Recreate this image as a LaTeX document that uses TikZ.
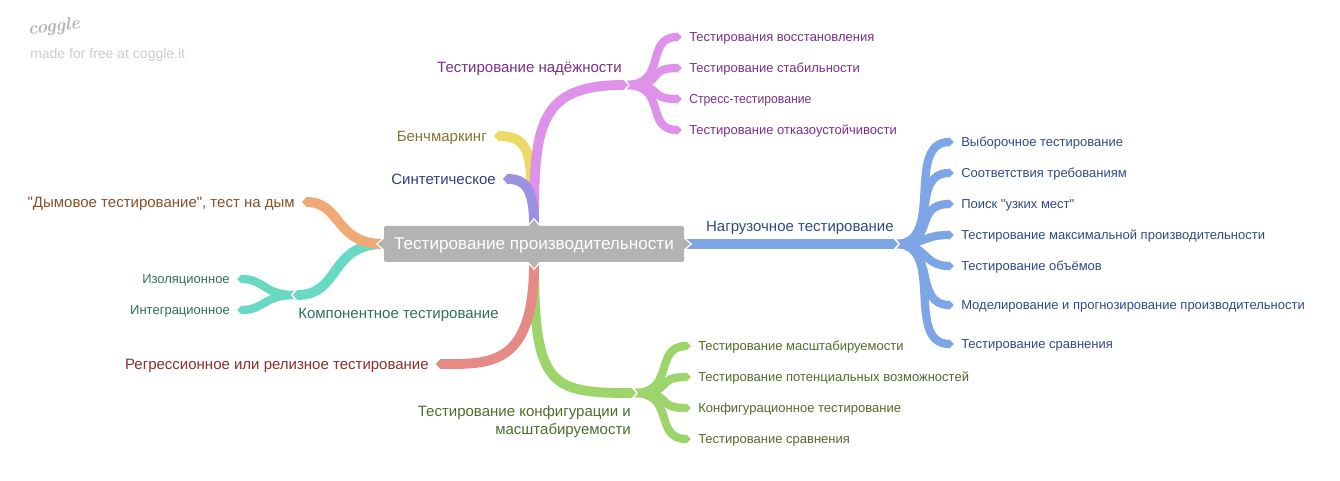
\documentclass[tikz,border=0pt]{standalone}
\usepackage{fontspec}
\usepackage{tikz}
\usetikzlibrary{arrows.meta,positioning,backgrounds}
\newfontfamily\labelfont{Liberation Sans}

\definecolor{rootgrey}{HTML}{B3B3B3}
\definecolor{purpleline}{HTML}{DF92EA}
\definecolor{purpletext}{HTML}{7B2E8A}
\definecolor{yellowline}{HTML}{EDD966}
\definecolor{yellowtext}{HTML}{877232}
\definecolor{violetline}{HTML}{9C90E3}
\definecolor{violettext}{HTML}{2F3F85}
\definecolor{orangeline}{HTML}{F0A875}
\definecolor{orangetext}{HTML}{8A4E24}
\definecolor{tealline}{HTML}{69D9C3}
\definecolor{tealtext}{HTML}{2F6F60}
\definecolor{redline}{HTML}{E58A85}
\definecolor{redtext}{HTML}{8A2F2B}
\definecolor{greenline}{HTML}{9DD46B}
\definecolor{greentext}{HTML}{4F6B2B}
\definecolor{blueline}{HTML}{7EA6E6}
\definecolor{bluetext}{HTML}{2E4A85}

\tikzset{
	leaf/.style={font=\labelfont\fontsize{9.75}{12}\selectfont,inner xsep=5.25pt,inner ysep=0pt,text height=7pt,text depth=0pt},
	limb/.style={font=\labelfont\fontsize{11.25}{13.5}\selectfont,inner xsep=5.25pt,inner ysep=0pt,text height=8pt,text depth=0pt},
	bough/.style={line width=7.4pt,line cap=butt,-{Triangle[length=3.6pt,width=7.8pt]}},
	twig/.style={line width=6.2pt,line cap=butt,-{Triangle[length=3.6pt,width=6.6pt]}},
}
% white gap between a branch and the ones that grow out of it
\newcommand{\notchat}[2]{\fill[white] (#1) ++(-7*#2,-6.5) -- ++(4*#2,0) -- ++(5*#2,6.5) -- ++(-5*#2,6.5) -- ++(-4*#2,0) -- cycle;}

\begin{document}
\begin{tikzpicture}[x=0.75pt,y=-0.75pt]
		\useasboundingbox (0,0) rectangle (1340,481);

		\node[fill=rootgrey,rounded corners=1.5pt,minimum width=225pt,minimum height=27pt,inner sep=0pt,text=white,text height=8.8pt,text depth=0pt,font=\labelfont\fontsize{12.85}{16}\selectfont] (root) at (534,244) {Тестирование производительности};
		\foreach \a/\dx/\dy in {north/0/-1,south/0/1,west/-1/0,east/1/0}
			\draw[fill=rootgrey,draw=white,line width=0.9pt] (root.\a) ++(\dy*6,\dx*6) -- ++(\dx*7-\dy*6,\dy*7-\dx*6) -- ++(-\dx*7-\dy*6,-\dy*7-\dx*6);

		\node[text=gray!60,font=\itshape\bfseries\fontsize{13.5}{16}\selectfont,rotate=6,inner sep=0pt] (logo) at (54,27) {coggle};
		\node[anchor=west,text=black!20,inner sep=0pt,font=\labelfont\fontsize{10.5}{13}\selectfont] (credit) at (30,55) {made for free at coggle.it};

		% reliability
		\coordinate (hubrely) at (628,85);
		\node[limb,text=purpletext,anchor=east] (rely) at (629,67) {Тестирование надёжности};
		\node[leaf,text=purpletext,anchor=west] (relyA) at (682,37) {Тестирования восстановления};
		\node[leaf,text=purpletext,anchor=west] (relyB) at (682,68) {Тестирование стабильности};
		\node[leaf,text=purpletext,anchor=west] (relyC) at (682,99) {\addfontfeature{FakeStretch=0.94}Стресс-тестирование};
		\node[leaf,text=purpletext,anchor=west] (relyD) at (682,130) {Тестирование отказоустойчивости};

		\node[limb,text=yellowtext,anchor=east] (bench) at (494,136) {Бенчмаркинг};
		\node[limb,text=violettext,anchor=east] (synth) at (503,179) {Синтетическое};
		\node[limb,text=orangetext,anchor=east] (smoke) at (302,202) {"Дымовое тестирование", тест на дым};

		% components
		\coordinate (hubcomp) at (293,295);
		\node[limb,text=tealtext,anchor=west] (comp) at (291,313) {Компонентное тестирование};
		\node[leaf,text=tealtext,anchor=east] (compA) at (237,279) {Изоляционное};
		\node[leaf,text=tealtext,anchor=east] (compB) at (237,310) {Интеграционное};

		\node[limb,text=redtext,anchor=east] (regr) at (436,364) {Регрессионное или релизное тестирование};

		% configuration
		\coordinate (hubconf) at (636,393);
		\node[limb,text=greentext,anchor=east,align=right] (conf) at (638,429) {Тестирование конфигурации и\\масштабируемости};
		\node[leaf,text=greentext,anchor=west] (confA) at (691,346) {Тестирование масштабируемости};
		\node[leaf,text=greentext,anchor=west] (confB) at (691,377) {Тестирование потенциальных возможностей};
		\node[leaf,text=greentext,anchor=west] (confC) at (691,408) {Конфигурационное тестирование};
		\node[leaf,text=greentext,anchor=west] (confD) at (691,439) {Тестирование сравнения};

		% load
		\coordinate (hubload) at (898,244);
		\node[limb,text=bluetext,anchor=east] (load) at (901,226) {Нагрузочное тестирование};
		\node[leaf,text=bluetext,anchor=west] (loadA) at (954,142) {Выборочное тестирование};
		\node[leaf,text=bluetext,anchor=west] (loadB) at (954,173) {Соответствия требованиям};
		\node[leaf,text=bluetext,anchor=west] (loadC) at (954,204) {Поиск "узких мест"};
		\node[leaf,text=bluetext,anchor=west] (loadD) at (954,235) {Тестирование максимальной производительности};
		\node[leaf,text=bluetext,anchor=west] (loadE) at (954,266) {Тестирование объёмов};
		\node[leaf,text=bluetext,anchor=west] (loadF) at (954,305) {Моделирование и прогнозирование производительности};
		\node[leaf,text=bluetext,anchor=west] (loadG) at (954,344) {Тестирование сравнения};

		\begin{scope}[on background layer]
			\draw[bough,yellowline] (root.north) ++(-3,-40) .. controls +(0,-40) and +(28,0) .. (bench.east);
			\foreach \n in {relyA,relyB,relyC,relyD}
				\draw[twig,purpleline] (hubrely) ++(-2,0) .. controls +(42,0) and +(-38,0) .. (\n.west);
			\notchat{hubrely}{1}
			\draw[bough,purpleline] (root.north) .. controls +(0,-100) and +(-90,0) .. (hubrely);
			\draw[bough,violetline] (root.north) .. controls +(0,-38) and +(22,0) .. (synth.east);

			\foreach \n in {compA,compB}
				\draw[twig,tealline] (hubcomp) ++(2,0) .. controls +(-32,0) and +(28,0) .. (\n.east);
			\notchat{hubcomp}{-1}
			\draw[bough,tealline] (root.west) .. controls +(-55,0) and +(48,0) .. (hubcomp);
			\draw[bough,orangeline] (root.west) .. controls +(-50,0) and +(40,0) .. (smoke.east);

			\foreach \n in {confA,confB,confC,confD}
				\draw[twig,greenline] (hubconf) ++(-2,0) .. controls +(42,0) and +(-38,0) .. (\n.west);
			\notchat{hubconf}{1}
			\draw[bough,greenline] (root.south) .. controls +(0,125) and +(-85,0) .. (hubconf);
			\draw[bough,redline] (root.south) .. controls +(0,105) and +(54,0) .. (regr.east);

			\foreach \n/\c in {loadA/50,loadB/46,loadC/42,loadD/32,loadE/32,loadF/42,loadG/50}
				\draw[twig,blueline] (hubload) ++(-2,0) .. controls +(\c,0) and +(-\c,0) .. (\n.west);
			\notchat{hubload}{1}
			\draw[bough,blueline] (root.east) -- (hubload);
		\end{scope}
\end{tikzpicture}
\end{document}
